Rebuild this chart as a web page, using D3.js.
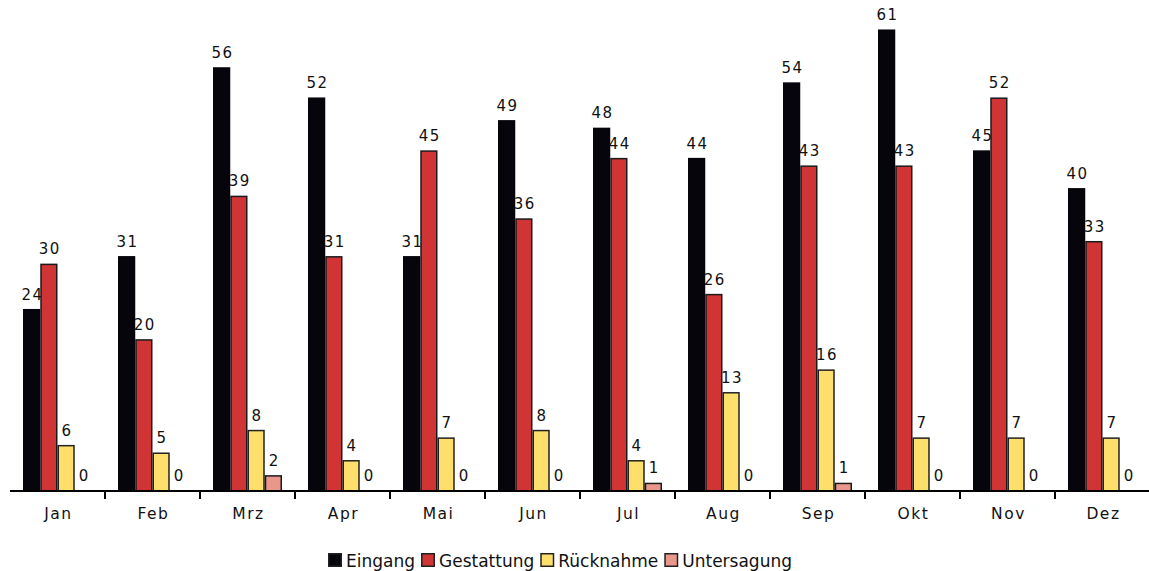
<!DOCTYPE html>
<html><head><meta charset="utf-8">
<script src="https://cdn.jsdelivr.net/npm/d3@7"></script>
<style>body{margin:0;background:#fff}</style>
</head><body>
<svg id="c" width="1149" height="571"></svg>
<script>
const months = ["Jan","Feb","Mrz","Apr","Mai","Jun","Jul","Aug","Sep","Okt","Nov","Dez"];
const seriesNames = ["Eingang","Gestattung","Rücknahme","Untersagung"];
const eingang     = [24,31,56,52,31,49,48,44,54,61,45,40];
const gestattung  = [30,20,39,31,45,36,44,26,43,43,52,33];
const ruecknahme  = [6,5,8,4,7,8,4,13,16,7,7,7];
const untersagung = [0,0,2,0,0,0,1,0,1,0,0,0];
const seriesValues = [eingang, gestattung, ruecknahme, untersagung];
const colors = ["#06050c","#d03434","#ffdf6c","#e8978a"];
const strokes = ["#06050c","#1a1a1a","#222","#1a1a1a"];

const svg = d3.select("#c");
const baseY = 491;
const x0 = d3.scaleBand().domain(months).range([10, 1150]).padding(0);
const x1 = d3.scaleBand().domain(seriesNames).range([0, x0.bandwidth()]).paddingInner(0).paddingOuter(0.754);
const y = d3.scaleLinear().domain([0, 65]).range([baseY, 0]);

const groups = svg.selectAll("g.grp").data(months).join("g")
  .attr("transform", d => `translate(${x0(d)},0)`);

groups.each(function(m, i) {
  const g = d3.select(this);
  seriesNames.forEach((s, k) => {
    const v = seriesValues[k][i];
    if (v > 0) {
      g.append("rect")
        .attr("x", x1(s) + 0.75)
        .attr("y", y(v))
        .attr("width", x1.bandwidth() - 1.5)
        .attr("height", baseY - y(v))
        .attr("fill", colors[k])
        .attr("stroke", strokes[k])
        .attr("stroke-width", 1.5);
    }
    g.append("text")
      .attr("x", x1(s) + x1.bandwidth() / 2 + 1)
      .attr("y", y(v) - 10)
      .attr("text-anchor", "middle")
      .attr("font-family", "DejaVu Sans, Verdana, sans-serif")
      .attr("font-size", 15)
      .attr("letter-spacing", "1.5px")
      .attr("fill", "#111")
      .text(v);
  });
});

// x axis
const ax = svg.append("g").attr("transform", `translate(0,${baseY})`);
ax.append("line").attr("x1", 10).attr("x2", 1149).attr("y1", 0).attr("y2", 0)
  .attr("stroke", "#000").attr("stroke-width", 2);
ax.selectAll("line.tk").data(months.slice(1)).join("line")
  .attr("class", "tk")
  .attr("x1", d => x0(d)).attr("x2", d => x0(d))
  .attr("y1", 0).attr("y2", 8)
  .attr("stroke", "#000").attr("stroke-width", 2);
ax.selectAll("text.lbl").data(months).join("text")
  .attr("class", "lbl")
  .attr("x", d => x0(d) + x0.bandwidth() / 2 + 1)
  .attr("y", 28)
  .attr("text-anchor", "middle")
  .attr("font-family", "DejaVu Sans, Verdana, sans-serif")
  .attr("font-size", 15.5)
  .attr("letter-spacing", "1.5px")
  .attr("fill", "#111")
  .text(d => d);

// legend
const legend = svg.append("g").attr("transform", "translate(328,553)");
let lx = 0;
seriesNames.forEach((s, k) => {
  const it = legend.append("g").attr("transform", `translate(${lx},0)`);
  it.append("rect").attr("x", 0.75).attr("y", 0.75).attr("width", 12.5).attr("height", 12.5)
    .attr("fill", colors[k]).attr("stroke", "#222").attr("stroke-width", 1.5);
  const t = it.append("text").attr("x", 18).attr("y", 13.5)
    .attr("font-family", "DejaVu Sans, Verdana, sans-serif")
    .attr("font-size", 17).attr("fill", "#111").text(s);
  lx += 18 + t.node().getComputedTextLength() + 6;
});
</script>
</body></html>
